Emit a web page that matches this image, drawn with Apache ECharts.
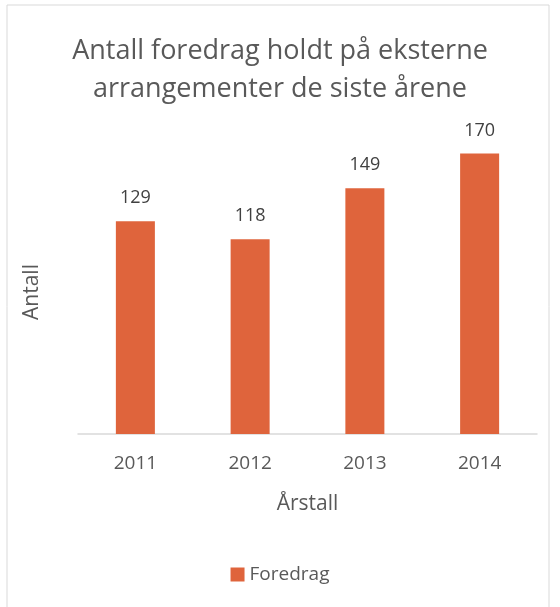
<!DOCTYPE html>
<html>
<head>
<meta charset="utf-8">
<script src="https://cdn.jsdelivr.net/npm/echarts@6/dist/echarts.min.js"></script>
<style>
  html, body { margin: 0; padding: 0; background: #fff; }
  #chart { width: 560px; height: 607px; }
</style>
</head>
<body>
<div id="chart"></div>
<script>
const years = ['2011', '2012', '2013', '2014']
const foredrag = [129, 118, 149, 170]

const textGray = '#595959'
const font = 'Open Sans'

const chart = echarts.init(document.getElementById('chart'))

const option = {
  animation: false,
  color: ['#DF643C'],
  title: {
    text: 'Antall foredrag holdt på eksterne\narrangementer de siste årene',
    left: 'center',
    top: 27,
    textStyle: { fontFamily: font, fontSize: 27, fontWeight: 'normal', color: textGray, lineHeight: 38 }
  },
  legend: {
    bottom: 18,
    left: 'center',
    itemWidth: 14,
    itemHeight: 14,
    itemGap: 6,
    icon: 'rect',
    textStyle: { fontFamily: font, fontSize: 19, color: textGray }
  },
  grid: { left: 78, right: 23, top: 104, bottom: 173 },
  xAxis: {
    type: 'category',
    data: years,
    name: 'Årstall',
    nameLocation: 'middle',
    nameGap: 60,
    nameTextStyle: { fontFamily: font, fontSize: 21, color: textGray },
    axisTick: { show: false },
    axisLine: { lineStyle: { color: '#d9d9d9', width: 1.5 } },
    axisLabel: { fontFamily: font, fontSize: 19, color: textGray, margin: 20 }
  },
  yAxis: {
    type: 'value',
    min: 0,
    max: 200,
    name: 'Antall',
    nameLocation: 'middle',
    nameGap: 35,
    nameTextStyle: { fontFamily: font, fontSize: 21, color: textGray, padding: [0, 46, 0, 0] },
    axisLine: { show: false },
    axisTick: { show: false },
    axisLabel: { show: false },
    splitLine: { show: false }
  },
  series: [
    {
      name: 'Foredrag',
      type: 'bar',
      data: foredrag,
      barWidth: '34%',
      label: {
        show: true,
        position: 'top',
        distance: 14,
        fontFamily: font,
        fontSize: 18,
        color: '#404040'
      }
    }
  ],
  graphic: [
    {
      type: 'rect',
      shape: { x: 7, y: 5, width: 542, height: 610 },
      style: { fill: 'none', stroke: '#d9d9d9', lineWidth: 1 },
      silent: true
    }
  ]
}

chart.setOption(option)
</script>
</body>
</html>
